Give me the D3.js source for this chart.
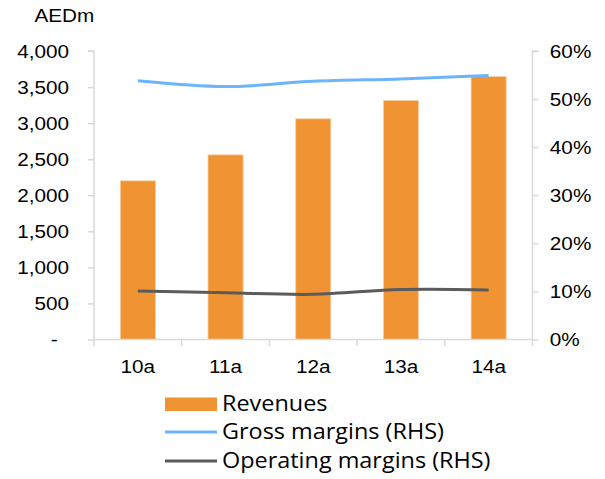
<!DOCTYPE html>
<html>
<head>
<meta charset="utf-8">
<script src="https://cdn.jsdelivr.net/npm/d3@7"></script>
<style>
  html, body { margin: 0; padding: 0; background: #fff; }
  svg { display: block; }
</style>
</head>
<body>
<svg id="chart" width="605" height="479"></svg>
<script>
// Chart data
const categories = ["10a", "11a", "12a", "13a", "14a"];
const revenues = [2200, 2560, 3060, 3315, 3645];          // AEDm
const grossMargins = [0.538, 0.526, 0.537, 0.542, 0.549];   // share of revenue
const operatingMargins = [0.101, 0.097, 0.094, 0.104, 0.103];
const leftTicks = [0, 500, 1000, 1500, 2000, 2500, 3000, 3500, 4000];
const rightTicks = [0, 0.1, 0.2, 0.3, 0.4, 0.5, 0.6];
const legendLabels = ["Revenues", "Gross margins (RHS)", "Operating margins (RHS)"];

const colors = {
  bar: "#f09433",
  barEdge: "#f7cfa3",
  gross: "#6cb5fd",
  operating: "#5b5b5b",
  axis: "#d9d9d9",
  text: "#000"
};

const plot = { left: 94, right: 532.5, top: 51, bottom: 339.5 };
const stretch = "scale(1.12,1)";

const svg = d3.select("#chart");

const x = d3.scaleBand().domain(categories).range([plot.left, plot.right]).padding(0);
const yL = d3.scaleLinear().domain([0, 4000]).range([plot.bottom, plot.top]);
const yR = d3.scaleLinear().domain([0, 0.6]).range([plot.bottom, plot.top]);

const barW = x.bandwidth() * 0.4;

// Revenue bars
svg.append("g").selectAll("rect")
  .data(categories)
  .join("rect")
  .attr("x", (d) => x(d) + (x.bandwidth() - barW) / 2)
  .attr("y", (d, i) => yL(revenues[i]))
  .attr("width", barW)
  .attr("height", (d, i) => yL(0) - yL(revenues[i]))
  .attr("fill", colors.bar)
  .attr("stroke", colors.barEdge)
  .attr("stroke-width", 0.8);

// Left axis
const axisFont = "'Liberation Sans', Arial, sans-serif";
const gL = svg.append("g")
  .attr("transform", `translate(${plot.left},0)`)
  .call(d3.axisLeft(yL).tickValues(leftTicks).tickSize(6).tickPadding(0)
    .tickFormat((d) => d === 0 ? "-" : d3.format(",")(d)));
gL.select(".domain").attr("stroke", colors.axis).attr("stroke-width", 1.5)
  .attr("d", `M-6,${plot.top}H0V${plot.bottom}`);
gL.selectAll(".tick line").attr("stroke", colors.axis).attr("stroke-width", 1.5);
gL.selectAll(".tick text")
  .attr("x", (d) => d === 0 ? -32.5 : -22.3)
  .attr("dy", "0.35em")
  .attr("transform", stretch)
  .attr("font-family", axisFont)
  .attr("font-size", 18.5)
  .attr("fill", colors.text);

// Right axis
const gR = svg.append("g")
  .attr("transform", `translate(${plot.right},0)`)
  .call(d3.axisRight(yR).tickValues(rightTicks).tickSize(6).tickPadding(0)
    .tickFormat(d3.format(".0%")));
gR.select(".domain").attr("stroke", colors.axis).attr("stroke-width", 1.5)
  .attr("d", `M6,${plot.top}H0V${plot.bottom}`);
gR.selectAll(".tick line").attr("stroke", colors.axis).attr("stroke-width", 1.5);
gR.selectAll(".tick text")
  .attr("x", 15.5)
  .attr("dy", "0.35em")
  .attr("transform", stretch)
  .attr("font-family", axisFont)
  .attr("font-size", 18.5)
  .attr("fill", colors.text);

// Category axis with separators between bands
const gX = svg.append("g").attr("transform", `translate(0,${plot.bottom})`);
gX.append("line")
  .attr("x1", plot.left).attr("x2", plot.right)
  .attr("stroke", colors.axis).attr("stroke-width", 1.5);
const bounds = categories.map((c) => x(c)).concat([plot.right]);
gX.selectAll("line.sep").data(bounds).join("line")
  .attr("class", "sep")
  .attr("x1", (d) => d).attr("x2", (d) => d)
  .attr("y1", 0).attr("y2", 6.5)
  .attr("stroke", colors.axis).attr("stroke-width", 1.5);
gX.selectAll("text").data(categories).join("text")
  .attr("transform", (d) => `translate(${x(d) + x.bandwidth() / 2},33.5) ${stretch}`)
  .attr("text-anchor", "middle")
  .attr("font-family", axisFont)
  .attr("font-size", 18.5)
  .attr("fill", colors.text)
  .text((d) => d);

// Axis unit label
svg.append("text")
  .attr("transform", `translate(34.5,22) ${stretch}`)
  .attr("font-family", axisFont)
  .attr("font-size", 18.5)
  .attr("fill", colors.text)
  .text("AEDm");

// Margin lines (smoothed)
const cx = (d) => x(d) + x.bandwidth() / 2;
const line = d3.line().curve(d3.curveCatmullRom.alpha(0));
svg.append("path")
  .attr("d", line(categories.map((c, i) => [cx(c), yR(grossMargins[i])])))
  .attr("fill", "none").attr("stroke", colors.gross).attr("stroke-width", 3);
svg.append("path")
  .attr("d", line(categories.map((c, i) => [cx(c), yR(operatingMargins[i])])))
  .attr("fill", "none").attr("stroke", colors.operating).attr("stroke-width", 3);

// Legend
const legendFont = "'Open Sans', 'Noto Sans', sans-serif";
const legend = svg.append("g").attr("transform", "translate(165,0)");
const rows = [
  { y: 404, type: "box", color: colors.bar },
  { y: 432, type: "line", color: colors.gross },
  { y: 461, type: "line", color: colors.operating }
];
rows.forEach((r, i) => {
  if (r.type === "box") {
    legend.append("rect").attr("x", 0).attr("y", r.y - 6.5)
      .attr("width", 52).attr("height", 13.5).attr("fill", r.color);
  } else {
    legend.append("line").attr("x1", 0).attr("x2", 52)
      .attr("y1", r.y).attr("y2", r.y)
      .attr("stroke", r.color).attr("stroke-width", 3);
  }
  legend.append("text")
    .attr("transform", `translate(57,${r.y + 7}) scale(1.09,1)`)
    .attr("font-family", legendFont)
    .attr("font-size", 21.5)
    .attr("fill", colors.text)
    .text(legendLabels[i]);
});
</script>
</body>
</html>
